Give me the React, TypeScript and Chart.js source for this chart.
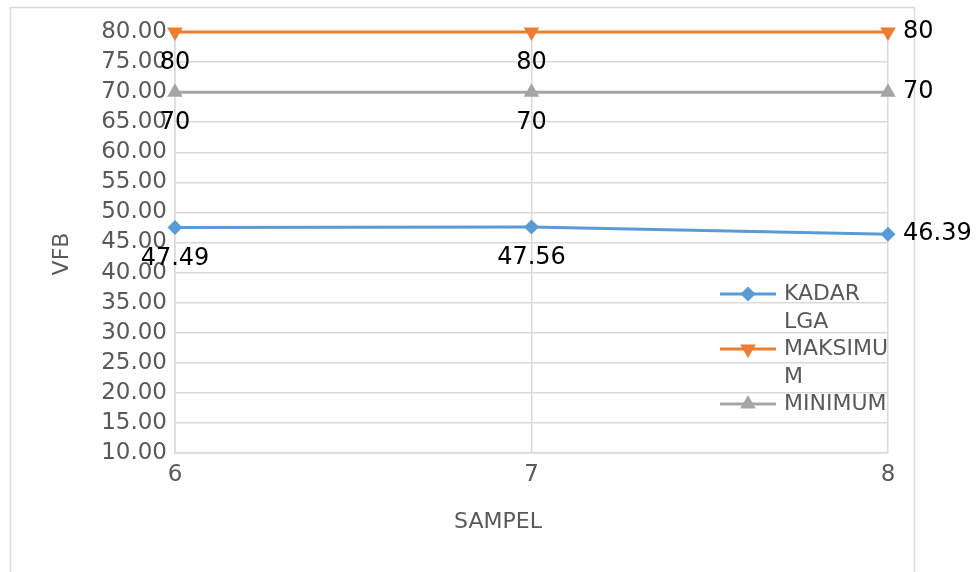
import React, { useEffect, useRef } from "react";
import { Chart, registerables } from "chart.js";

Chart.register(...registerables);

const categories = ["6", "7", "8"];
const kadarLga = [47.49, 47.56, 46.39];
const maksimum = [80, 80, 80];
const minimum = [70, 70, 70];
const seriesLabels = ["KADAR LGA", "MAKSIMUM", "MINIMUM"];
const dataLabelText = [
  ["47.49", "47.56", "46.39"],
  ["80", "80", "80"],
  ["70", "70", "70"],
];
const yMin = 10;
const yMax = 80;
const yStep = 5;
const xTitle = "SAMPEL";
const yTitle = "VFB";

const FONT = "'DejaVu Sans', sans-serif";
const GRAY_TEXT = "#595959";
const GRID = "#d9d9d9";

const borderPlugin = {
  id: "outerBorder",
  beforeDraw(chart: any) {
    const ctx = chart.ctx;
    ctx.save();
    ctx.fillStyle = "#ffffff";
    ctx.fillRect(0, 0, chart.width, chart.height);
    ctx.strokeStyle = GRID;
    ctx.lineWidth = 1.5;
    ctx.strokeRect(10.5, 7.5, 904, 620);
    ctx.restore();
  },
  afterDraw(chart: any) {
    const ctx = chart.ctx;
    ctx.save();
    ctx.font = `22px ${FONT}`;
    ctx.fillStyle = GRAY_TEXT;
    ctx.textAlign = "center";
    ctx.textBaseline = "middle";
    ctx.fillText(xTitle, 498, 522);
    ctx.translate(62, 254);
    ctx.rotate(-Math.PI / 2);
    ctx.fillText(yTitle, 0, 0);
    ctx.restore();
  },
};

const dataLabelPlugin = {
  id: "dataLabels",
  afterDatasetsDraw(chart: any) {
    const ctx = chart.ctx;
    ctx.save();
    ctx.font = `24px ${FONT}`;
    ctx.fillStyle = "#000000";
    chart.data.datasets.forEach((ds: any, di: number) => {
      const meta = chart.getDatasetMeta(di);
      meta.data.forEach((pt: any, i: number) => {
        const txt = dataLabelText[di][i];
        const last = i === meta.data.length - 1;
        ctx.textBaseline = "middle";
        if (last) {
          ctx.textAlign = "left";
          ctx.fillText(txt, pt.x + 15, pt.y);
        } else {
          ctx.textAlign = "center";
          ctx.fillText(txt, pt.x, pt.y + 31);
        }
      });
    });
    ctx.restore();
  },
};

function wrapText(ctx: any, text: string, maxW: number): string[] {
  const words = text.split(" ");
  const lines: string[] = [];
  let cur = "";
  for (const w of words) {
    const test = cur ? cur + " " + w : w;
    if (ctx.measureText(test).width <= maxW) {
      cur = test;
    } else {
      if (cur) lines.push(cur);
      if (ctx.measureText(w).width <= maxW) {
        cur = w;
      } else {
        let piece = "";
        for (const ch of w) {
          if (ctx.measureText(piece + ch).width <= maxW) piece += ch;
          else {
            lines.push(piece);
            piece = ch;
          }
        }
        cur = piece;
      }
    }
  }
  if (cur) lines.push(cur);
  return lines;
}

function drawMarker(ctx: any, style: string, rotation: number, r: number, x: number, y: number) {
  ctx.beginPath();
  if (style === "rectRot") {
    ctx.moveTo(x, y - r);
    ctx.lineTo(x + r, y);
    ctx.lineTo(x, y + r);
    ctx.lineTo(x - r, y);
  } else {
    const base = (rotation * Math.PI) / 180;
    for (let k = 0; k < 3; k++) {
      const a = base + (k * 2 * Math.PI) / 3;
      const px = x + Math.sin(a) * r;
      const py = y - Math.cos(a) * r;
      if (k === 0) ctx.moveTo(px, py);
      else ctx.lineTo(px, py);
    }
  }
  ctx.closePath();
  ctx.fill();
}

const legendPlugin = {
  id: "customLegend",
  afterDraw(chart: any) {
    const ctx = chart.ctx;
    ctx.save();
    ctx.font = `22px ${FONT}`;
    const x0 = 720;
    const lineLen = 56;
    const textX = 784;
    const lineH = 28.5;
    let y = 294;
    chart.data.datasets.forEach((ds: any) => {
      const lines = wrapText(ctx, ds.label, 106);
      ctx.strokeStyle = ds.borderColor;
      ctx.lineWidth = 3;
      ctx.beginPath();
      ctx.moveTo(x0, y);
      ctx.lineTo(x0 + lineLen, y);
      ctx.stroke();
      ctx.fillStyle = ds.borderColor;
      drawMarker(ctx, ds.pointStyle, ds.pointRotation || 0, ds.pointRadius, x0 + lineLen / 2, y);
      ctx.fillStyle = GRAY_TEXT;
      ctx.textAlign = "left";
      ctx.textBaseline = "middle";
      lines.forEach((ln, k) => {
        ctx.fillText(ln, textX, y + k * lineH);
      });
      y += lines.length * lineH - 2;
    });
    ctx.restore();
  },
};

export default function App() {
  const ref = useRef<HTMLCanvasElement | null>(null);

  useEffect(() => {
    if (!ref.current) return;
    const mk = (label: string, data: number[], color: string, style: string, radius: number, rotation = 0) => ({
      label,
      data,
      borderColor: color,
      backgroundColor: color,
      borderWidth: 3,
      pointStyle: style,
      pointRadius: radius,
      pointRotation: rotation,
      pointBorderWidth: 0,
      pointBackgroundColor: color,
      tension: 0,
      clip: false,
    });
    const chart = new Chart(ref.current, {
      type: "line",
      data: {
        labels: categories,
        datasets: [
          mk(seriesLabels[0], kadarLga, "#5B9BD5", "rectRot", 7.5),
          mk(seriesLabels[1], maksimum, "#ED7D31", "triangle", 9, 180),
          mk(seriesLabels[2], minimum, "#A5A5A5", "triangle", 9),
        ] as any,
      },
      options: {
        animation: false,
        responsive: true,
        maintainAspectRatio: false,
        layout: { padding: { left: 0, top: 32, right: 88, bottom: 0 } },
        plugins: {
          legend: { display: false },
          tooltip: { enabled: false },
        },
        scales: {
          x: {
            type: "category",
            offset: false,
            grid: { color: GRID, lineWidth: 1.5, drawTicks: false },
            border: { color: GRID, width: 1.5 },
            ticks: { color: GRAY_TEXT, font: { family: FONT, size: 23 }, padding: 8, autoSkip: false, maxRotation: 0 },
            title: { display: false, text: xTitle },
            afterFit: (s: any) => {
              s.height = 119;
            },
          } as any,
          y: {
            min: yMin,
            max: yMax,
            grid: { color: GRID, lineWidth: 1.5, drawTicks: false },
            border: { color: GRID, width: 1.5 },
            ticks: {
              stepSize: yStep,
              autoSkip: false,
              color: GRAY_TEXT,
              font: { family: FONT, size: 23 },
              padding: 8,
              callback: (v: any) => Number(v).toFixed(2),
            },
            title: { display: false, text: yTitle },
            afterFit: (s: any) => {
              s.width = 175;
            },
          } as any,
        },
      },
      plugins: [borderPlugin, dataLabelPlugin, legendPlugin],
    });
    return () => chart.destroy();
  }, []);

  return (
    <div style={{ position: "absolute", left: 0, top: 0, width: 976, height: 572 }}>
      <canvas ref={ref} />
    </div>
  );
}
